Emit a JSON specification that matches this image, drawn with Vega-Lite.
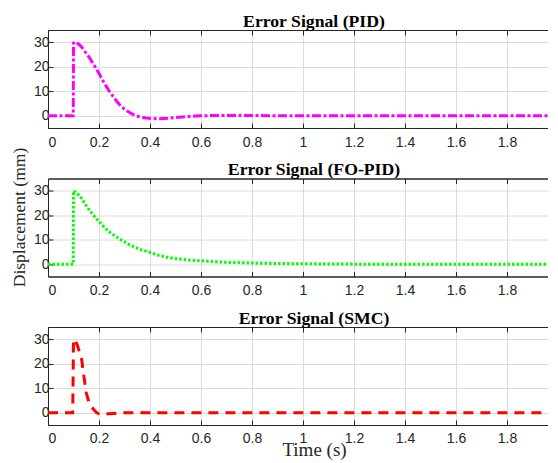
{
  "$schema": "https://vega.github.io/schema/vega-lite/v6.json",
  "padding": {"left": 9, "top": 12, "right": -17, "bottom": 0},
  "spacing": 50.5,
  "bounds": "flush",
  "config": {
    "view": {"stroke": "#262626", "strokeWidth": 1},
    "axis": {
      "labelFont": "Liberation Sans",
      "labelFontSize": 14,
      "labelColor": "#262626",
      "tickColor": "#262626",
      "domainColor": "#262626",
      "gridColor": "#dcdcdc",
      "gridWidth": 1,
      "tickSize": -5,
      "titleFont": "Liberation Serif",
      "titleFontWeight": "normal",
      "titleColor": "#262626"
    },
    "title": {"font": "Liberation Serif", "fontWeight": "bold", "fontSize": 17.7, "color": "#000000", "anchor": "middle", "frame": "group", "offset": -1, "dx": 11}
  },
  "data": {"values": [
    {"s":"PID","t":0,"v":0},{"s":"PID","t":0.099,"v":0},{"s":"PID","t":0.1,"v":29.6},{"s":"PID","t":0.104,"v":30.2},{"s":"PID","t":0.11,"v":30.0},{"s":"PID","t":0.124,"v":28.9},{"s":"PID","t":0.137,"v":27.4},{"s":"PID","t":0.15,"v":25.5},{"s":"PID","t":0.163,"v":23.6},{"s":"PID","t":0.176,"v":21.4},{"s":"PID","t":0.19,"v":19.1},{"s":"PID","t":0.203,"v":16.7},{"s":"PID","t":0.216,"v":14.2},{"s":"PID","t":0.229,"v":11.9},{"s":"PID","t":0.242,"v":9.8},{"s":"PID","t":0.255,"v":7.9},{"s":"PID","t":0.268,"v":6.1},{"s":"PID","t":0.281,"v":4.5},{"s":"PID","t":0.294,"v":3.2},{"s":"PID","t":0.307,"v":2.2},{"s":"PID","t":0.32,"v":1.3},{"s":"PID","t":0.333,"v":0.6},{"s":"PID","t":0.346,"v":0},{"s":"PID","t":0.36,"v":-0.45},{"s":"PID","t":0.373,"v":-0.75},{"s":"PID","t":0.386,"v":-0.95},{"s":"PID","t":0.41,"v":-1.15},{"s":"PID","t":0.438,"v":-1.2},{"s":"PID","t":0.47,"v":-1.0},{"s":"PID","t":0.503,"v":-0.7},{"s":"PID","t":0.55,"v":-0.35},{"s":"PID","t":0.595,"v":-0.05},{"s":"PID","t":0.65,"v":0.1},{"s":"PID","t":0.7,"v":0.15},{"s":"PID","t":0.8,"v":0.1},{"s":"PID","t":0.9,"v":0.03},{"s":"PID","t":1.0,"v":0},{"s":"PID","t":2.0,"v":0},
    {"s":"FO","t":0,"v":0},{"s":"FO","t":0.099,"v":0},{"s":"FO","t":0.1,"v":30},{"s":"FO","t":0.105,"v":29.6},{"s":"FO","t":0.118,"v":28.5},{"s":"FO","t":0.131,"v":26.9},{"s":"FO","t":0.148,"v":24.2},{"s":"FO","t":0.163,"v":22.0},{"s":"FO","t":0.183,"v":19.4},{"s":"FO","t":0.2,"v":17.4},{"s":"FO","t":0.222,"v":14.9},{"s":"FO","t":0.248,"v":12.6},{"s":"FO","t":0.281,"v":10.3},{"s":"FO","t":0.32,"v":7.9},{"s":"FO","t":0.359,"v":6.1},{"s":"FO","t":0.399,"v":4.9},{"s":"FO","t":0.438,"v":3.5},{"s":"FO","t":0.49,"v":2.4},{"s":"FO","t":0.542,"v":1.8},{"s":"FO","t":0.6,"v":1.4},{"s":"FO","t":0.7,"v":0.8},{"s":"FO","t":0.8,"v":0.5},{"s":"FO","t":0.9,"v":0.3},{"s":"FO","t":1.0,"v":0.2},{"s":"FO","t":1.1,"v":0.1},{"s":"FO","t":1.2,"v":0.05},{"s":"FO","t":1.4,"v":0},{"s":"FO","t":2.0,"v":0},
    {"s":"SMC","t":0,"v":0},{"s":"SMC","t":0.097,"v":0},{"s":"SMC","t":0.1,"v":29.5},{"s":"SMC","t":0.103,"v":30.1},{"s":"SMC","t":0.107,"v":29.6},{"s":"SMC","t":0.115,"v":27.5},{"s":"SMC","t":0.122,"v":25.2},{"s":"SMC","t":0.132,"v":21.8},{"s":"SMC","t":0.137,"v":17.7},{"s":"SMC","t":0.144,"v":12.5},{"s":"SMC","t":0.15,"v":8.1},{"s":"SMC","t":0.16,"v":4.6},{"s":"SMC","t":0.17,"v":2.6},{"s":"SMC","t":0.18,"v":1.2},{"s":"SMC","t":0.19,"v":0.1},{"s":"SMC","t":0.2,"v":-0.4},{"s":"SMC","t":0.24,"v":-0.4},{"s":"SMC","t":0.3,"v":0},{"s":"SMC","t":2.0,"v":0}
  ]},
  "vconcat": [
    {
      "title": "Error Signal (PID)",
      "width": 510, "height": 98,
      "transform": [{"filter": "datum.s === 'PID'"}],
      "layer": [
        {"mark": {"type": "line", "color": "#ff00ff", "strokeWidth": 3, "strokeDash": [9, 2.5, 3, 2.5]},
         "encoding": {
           "x": {"field": "t", "type": "quantitative", "scale": {"domain": [0, 2], "nice": false}, "axis": {"values": [0,0.2,0.4,0.6,0.8,1,1.2,1.4,1.6,1.8,2], "format": "~g", "title": null, "labelPadding": 12}},
           "y": {"field": "v", "type": "quantitative", "scale": {"domain": [-5, 35], "nice": false}, "axis": {"values": [0,10,20,30], "title": "Displacement (mm)", "titleFontSize": 17.5, "titleX": -29, "titleY": 187, "titleBaseline": "middle", "labelPadding": 4}}
         }},
        {"mark": {"type": "line", "opacity": 0},
         "encoding": {
           "x": {"field": "t", "type": "quantitative", "axis": {"orient": "top", "values": [0,0.2,0.4,0.6,0.8,1,1.2,1.4,1.6,1.8,2], "labels": false, "grid": false, "title": null}},
           "y": {"field": "v", "type": "quantitative", "axis": {"orient": "right", "values": [0,10,20,30], "labels": false, "grid": false, "title": null}}
         }}
      ],
      "resolve": {"axis": {"x": "independent", "y": "independent"}}
    },
    {
      "title": "Error Signal (FO-PID)",
      "width": 510, "height": 98,
      "transform": [{"filter": "datum.s === 'FO'"}],
      "layer": [
        {"mark": {"type": "line", "color": "#00ff00", "strokeWidth": 3, "strokeDash": [2.5, 2]},
         "encoding": {
           "x": {"field": "t", "type": "quantitative", "scale": {"domain": [0, 2], "nice": false}, "axis": {"values": [0,0.2,0.4,0.6,0.8,1,1.2,1.4,1.6,1.8,2], "format": "~g", "title": null, "labelPadding": 12}},
           "y": {"field": "v", "type": "quantitative", "scale": {"domain": [-5, 35], "nice": false}, "axis": {"values": [0,10,20,30], "title": null, "labelPadding": 4}}
         }},
        {"mark": {"type": "line", "opacity": 0},
         "encoding": {
           "x": {"field": "t", "type": "quantitative", "axis": {"orient": "top", "values": [0,0.2,0.4,0.6,0.8,1,1.2,1.4,1.6,1.8,2], "labels": false, "grid": false, "title": null}},
           "y": {"field": "v", "type": "quantitative", "axis": {"orient": "right", "values": [0,10,20,30], "labels": false, "grid": false, "title": null}}
         }}
      ],
      "resolve": {"axis": {"x": "independent", "y": "independent"}}
    },
    {
      "title": "Error Signal (SMC)",
      "width": 510, "height": 98,
      "transform": [{"filter": "datum.s === 'SMC'"}],
      "layer": [
        {"mark": {"type": "line", "color": "#ff0000", "strokeWidth": 3, "strokeDash": [10, 7]},
         "encoding": {
           "x": {"field": "t", "type": "quantitative", "scale": {"domain": [0, 2], "nice": false}, "axis": {"values": [0,0.2,0.4,0.6,0.8,1,1.2,1.4,1.6,1.8,2], "format": "~g", "title": "Time (s)", "titleFontSize": 19, "titleX": 266, "titleY": 30, "titleBaseline": "alphabetic", "labelPadding": 11}},
           "y": {"field": "v", "type": "quantitative", "scale": {"domain": [-5, 35], "nice": false}, "axis": {"values": [0,10,20,30], "title": null, "labelPadding": 4}}
         }},
        {"mark": {"type": "line", "opacity": 0},
         "encoding": {
           "x": {"field": "t", "type": "quantitative", "axis": {"orient": "top", "values": [0,0.2,0.4,0.6,0.8,1,1.2,1.4,1.6,1.8,2], "labels": false, "grid": false, "title": null}},
           "y": {"field": "v", "type": "quantitative", "axis": {"orient": "right", "values": [0,10,20,30], "labels": false, "grid": false, "title": null}}
         }}
      ],
      "resolve": {"axis": {"x": "independent", "y": "independent"}}
    }
  ]
}
